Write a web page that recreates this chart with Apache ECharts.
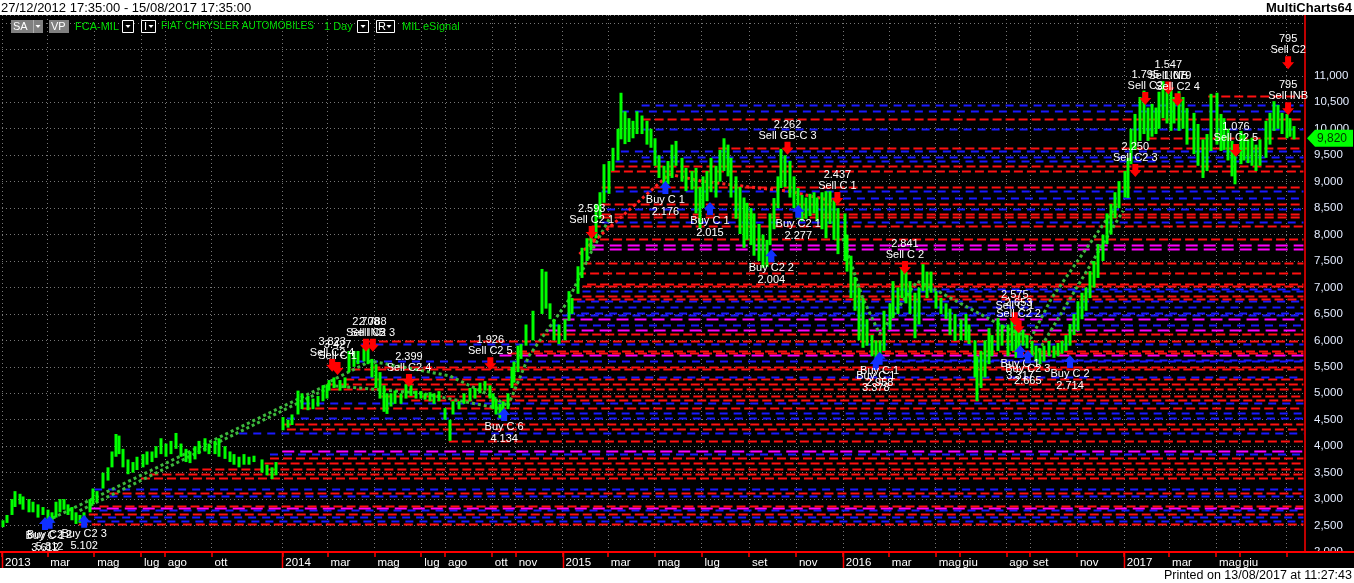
<!DOCTYPE html>
<html><head><meta charset="utf-8">
<script src="https://cdn.jsdelivr.net/npm/echarts@6/dist/echarts.min.js"></script>
<style>html,body{margin:0;padding:0;background:#fff;}#c{width:1354px;height:583px;}</style>
</head><body><div id="c"></div>
<script>
// ---------- axis ticks ----------
const TICK_DATES = ['2013-01-01','2013-03-01','2013-05-01','2013-07-01','2013-08-01','2013-10-01',
  '2014-01-01','2014-03-01','2014-05-01','2014-07-01','2014-08-01','2014-10-01','2014-11-01',
  '2015-01-01','2015-03-01','2015-05-01','2015-07-01','2015-09-01','2015-11-01',
  '2016-01-01','2016-03-01','2016-05-01','2016-06-01','2016-08-01','2016-09-01','2016-11-01',
  '2017-01-01','2017-03-01','2017-05-01','2017-06-01','2017-08-01'];
const TICK_LABELS = ['2013','mar','mag','lug','ago','ott',
  '2014','mar','mag','lug','ago','ott','nov',
  '2015','mar','mag','lug','set','nov',
  '2016','mar','mag','giu','ago','set','nov',
  '2017','mar','mag','giu',''];
const YEAR_TICKS = ['2013-01-01','2014-01-01','2015-01-01','2016-01-01','2017-01-01'];
const X_MIN = '2013-01-01', X_MAX = '2017-08-25';
const Y_MIN = 2000, Y_MAX = 12150, Y_STEP = 500, Y_LABEL_MAX = 11000;

// ---------- price bars: [date, low, high] ----------
const PRICE_BARS = [
['2013-01-02',2470,2600],['2013-01-08',2550,2700],['2013-01-14',2700,3000],['2013-01-18',2850,3150],['2013-01-24',2900,3100],['2013-01-29',2800,3050],
['2013-02-05',2750,3000],['2013-02-10',2750,2950],['2013-02-17',2650,2900],['2013-02-24',2700,2850],
['2013-03-02',2550,2800],['2013-03-07',2550,2750],['2013-03-12',2650,2950],['2013-03-17',2750,3000],['2013-03-23',2800,3000],['2013-03-28',2700,2900],
['2013-04-02',2600,2850],['2013-04-07',2530,2750],['2013-04-12',2550,2700],['2013-04-18',2500,2750],['2013-04-25',2750,3000],['2013-04-30',2900,3200],
['2013-05-05',2950,3150],['2013-05-12',3200,3500],['2013-05-19',3350,3600],['2013-05-24',3600,3900],['2013-05-30',3800,4230],
['2013-06-03',3850,4200],['2013-06-08',3600,3950],['2013-06-14',3470,3750],['2013-06-21',3500,3700],['2013-06-26',3550,3800],
['2013-07-03',3600,3850],['2013-07-09',3650,3900],['2013-07-15',3700,3900],['2013-07-21',3780,4000],['2013-07-27',3850,4150],
['2013-08-02',3800,4050],['2013-08-09',3850,4100],['2013-08-16',3950,4250],['2013-08-22',3800,4050],['2013-08-28',3700,3950],
['2013-09-03',3680,3900],['2013-09-09',3750,4000],['2013-09-15',3850,4100],['2013-09-22',3900,4150],['2013-09-28',3850,4050],
['2013-10-05',3850,4100],['2013-10-11',3800,4150],['2013-10-18',3760,4000],['2013-10-25',3700,3900],['2013-10-30',3650,3850],
['2013-11-06',3600,3800],['2013-11-12',3650,3850],['2013-11-19',3650,3800],['2013-11-25',3700,3820],
['2013-12-05',3500,3750],['2013-12-12',3450,3650],['2013-12-18',3380,3600],['2013-12-24',3450,3700],
['2014-01-02',4300,4550],['2014-01-08',4350,4500],['2014-01-14',4400,4600],['2014-01-21',4600,5050],['2014-01-27',4700,5000],
['2014-02-04',4680,4950],['2014-02-10',4700,4900],['2014-02-17',4750,4950],['2014-02-23',4850,5150],['2014-02-28',4900,5170],
['2014-03-03',5050,5250],['2014-03-10',5100,5300],['2014-03-17',5050,5250],['2014-03-24',5100,5300],['2014-03-29',5400,5800],
['2014-04-04',5500,5800],['2014-04-10',5550,5800],['2014-04-17',5600,5850],['2014-04-23',5550,5860],['2014-04-28',5300,5650],
['2014-05-03',5100,5550],['2014-05-08',4900,5400],['2014-05-13',4650,5150],['2014-05-18',4610,5000],['2014-05-23',4750,5000],['2014-05-28',4800,5050],
['2014-06-05',4800,5000],['2014-06-11',4900,5170],['2014-06-18',4950,5150],['2014-06-24',4900,5050],
['2014-07-01',4900,5040],['2014-07-06',4880,5000],['2014-07-12',4850,5020],['2014-07-18',4800,5000],['2014-07-24',4850,5040],
['2014-08-01',4500,4720],['2014-08-07',4100,4500],['2014-08-12',4600,4850],['2014-08-19',4700,4850],['2014-08-26',4800,5000],
['2014-09-03',4850,5100],['2014-09-09',4900,5100],['2014-09-16',5000,5200],['2014-09-22',5050,5230],['2014-09-28',4900,5150],
['2014-10-03',4700,5000],['2014-10-07',4600,4900],['2014-10-12',4530,4800],['2014-10-16',4550,4850],['2014-10-22',4700,5000],['2014-10-27',5100,5500],['2014-10-30',5200,5600],
['2014-11-04',5400,5900],['2014-11-08',5650,5930],['2014-11-15',5900,6300],['2014-11-23',6000,6560],
['2014-12-05',6500,7350],['2014-12-10',6600,7300],['2014-12-16',6400,6700],['2014-12-21',6000,6400],['2014-12-27',5930,6300],
['2015-01-04',6000,6400],['2015-01-09',6370,6930],['2015-01-14',6500,6800],['2015-01-21',6880,7400],['2015-01-27',7180,7750],
['2015-02-02',7500,7930],['2015-02-07',7700,8120],['2015-02-13',7930,8580],['2015-02-19',8300,8800],['2015-02-24',8600,9330],
['2015-03-03',8770,9390],['2015-03-08',9200,9640],['2015-03-14',9400,10000],['2015-03-18',9800,10680],['2015-03-23',9710,10330],['2015-03-28',9750,10200],
['2015-04-03',9820,10150],['2015-04-08',9900,10330],['2015-04-14',9900,10250],['2015-04-21',9700,10150],['2015-04-26',9640,10000],
['2015-05-02',9300,9820],['2015-05-07',9070,9500],['2015-05-13',8880,9300],['2015-05-18',8950,9390],['2015-05-24',9070,9700],['2015-05-29',9300,9770],
['2015-06-05',9000,9450],['2015-06-11',8820,9260],['2015-06-18',8850,9200],['2015-06-24',8400,9260],['2015-06-29',8120,8900],
['2015-07-03',8500,9100],['2015-07-08',8630,9200],['2015-07-14',8800,9450],['2015-07-20',8700,9300],['2015-07-25',9000,9600],['2015-07-30',9200,9820],
['2015-08-04',9100,9700],['2015-08-09',8700,9450],['2015-08-15',8300,9100],['2015-08-20',8010,8900],['2015-08-25',7750,8700],['2015-08-29',7900,8600],
['2015-09-03',7800,8500],['2015-09-08',7600,8400],['2015-09-14',7500,8200],['2015-09-19',7370,8000],['2015-09-24',7390,7900],['2015-09-28',7800,8400],
['2015-10-03',8100,8690],['2015-10-08',8500,9100],['2015-10-13',8880,9620],['2015-10-18',8900,9500],['2015-10-24',8700,9390],['2015-10-29',8500,9100],
['2015-11-04',8300,8880],['2015-11-09',8250,8750],['2015-11-14',8300,8700],['2015-11-19',8350,8770],['2015-11-24',8400,8800],['2015-11-29',8250,8700],
['2015-12-05',8100,8800],['2015-12-10',7930,8820],['2015-12-16',8200,8820],['2015-12-21',7900,8650],['2015-12-26',7630,8500],
['2016-01-04',7500,8400],['2016-01-06',7300,8000],['2016-01-12',6800,7600],['2016-01-17',6560,7200],['2016-01-22',6000,7000],['2016-01-27',5860,6800],
['2016-02-02',5900,6400],['2016-02-08',5700,6100],['2016-02-13',5670,6000],['2016-02-19',5550,6000],['2016-02-24',5800,6560],
['2016-03-02',6200,6700],['2016-03-07',6420,7120],['2016-03-13',6500,7000],['2016-03-18',6800,7370],['2016-03-23',6700,7300],['2016-03-29',6500,7120],
['2016-04-04',6040,6900],['2016-04-09',6300,7000],['2016-04-14',6930,7440],['2016-04-20',6800,7300],['2016-04-25',6900,7300],
['2016-05-02',6600,6930],['2016-05-08',6500,6800],['2016-05-14',6400,6700],['2016-05-20',6100,6600],['2016-05-26',5990,6500],
['2016-06-03',6000,6400],['2016-06-09',6000,6500],['2016-06-14',5930,6300],['2016-06-21',5300,6000],['2016-06-24',4850,5700],['2016-06-29',5100,5800],
['2016-07-04',5300,6000],['2016-07-09',5550,6230],['2016-07-14',5700,6100],['2016-07-21',5800,6420],['2016-07-26',5900,6300],
['2016-08-03',5700,6300],['2016-08-08',5800,6420],['2016-08-13',5670,6300],['2016-08-18',5800,6310],['2016-08-23',5900,6200],['2016-08-28',5850,6100],
['2016-09-04',5700,5990],['2016-09-09',5600,5900],['2016-09-14',5550,5850],['2016-09-19',5600,5900],['2016-09-25',5700,5990],
['2016-10-02',5670,5900],['2016-10-07',5700,5950],['2016-10-12',5750,5990],['2016-10-18',5800,6100],['2016-10-23',5900,6310],['2016-10-28',6100,6500],
['2016-11-03',6180,6740],['2016-11-08',6400,6900],['2016-11-13',6560,7000],['2016-11-18',6800,7310],['2016-11-23',7000,7500],['2016-11-28',7180,7820],
['2016-12-05',7500,8000],['2016-12-10',7820,8400],['2016-12-15',8000,8580],['2016-12-21',8310,8800],['2016-12-26',8500,9010],
['2017-01-02',8700,9200],['2017-01-06',8690,9450],['2017-01-11',9330,10000],['2017-01-16',9600,10280],['2017-01-22',9770,10600],['2017-01-27',9900,10720],
['2017-02-02',9770,10400],['2017-02-07',9850,10470],['2017-02-12',9900,10400],['2017-02-16',10000,10700],['2017-02-21',10200,10900],['2017-02-26',10100,10700],
['2017-03-03',9960,10770],['2017-03-08',10100,10600],['2017-03-14',9960,10710],['2017-03-19',10000,10600],['2017-03-24',9700,10390],
['2017-04-03',9520,10300],['2017-04-08',9300,10090],['2017-04-14',9070,9800],['2017-04-19',9200,9900],['2017-04-25',9580,10660],
['2017-05-02',9700,10680],['2017-05-07',9580,10280],['2017-05-12',9600,10200],['2017-05-17',9400,10000],['2017-05-22',9100,9770],['2017-05-26',8950,9700],
['2017-06-02',9330,9960],['2017-06-07',9400,9900],['2017-06-12',9350,9800],['2017-06-17',9300,9830],['2017-06-22',9200,9700],['2017-06-27',9300,9800],
['2017-07-05',9450,10150],['2017-07-10',9700,10300],['2017-07-15',9960,10520],['2017-07-21',10000,10450],['2017-07-26',9900,10300],
['2017-08-01',9820,10280],['2017-08-06',9850,10200],['2017-08-11',9800,10050]
];
const LAST_PRICE = 9820;

// ---------- horizontal levels: [startDate, value, kind]  (R red, B blue, M magenta) ----------
const LEVEL_END = '2017-08-23';
const LEVELS = [
['2013-04-11',2530,'R'],['2013-04-17',2590,'B'],['2013-05-01',2660,'B'],['2013-04-24',2720,'R'],['2013-05-08',2790,'B'],
['2013-04-24',2830,'M'],['2013-05-08',2870,'R'],['2013-05-21',3060,'B'],['2013-05-21',3120,'R'],['2013-05-01',3190,'B'],
['2013-07-01',3400,'R'],['2013-07-12',3470,'R'],['2013-09-02',3570,'R'],['2013-12-09',3680,'R'],['2013-12-16',3780,'R'],
['2013-12-16',3850,'B'],['2014-01-01',3910,'M'],['2014-08-06',4100,'R'],['2013-11-06',4250,'B'],['2014-01-07',4320,'R'],
['2014-01-01',4420,'R'],['2014-01-07',4530,'B'],['2014-07-25',4630,'B'],['2014-01-27',4720,'R'],['2014-01-27',4820,'B'],
['2014-06-18',4870,'R'],['2014-05-10',4950,'R'],['2014-03-05',5080,'R'],['2014-02-28',5180,'R'],['2014-03-24',5270,'R'],
['2014-04-01',5310,'B'],['2014-04-01',5460,'R'],['2014-04-27',5500,'R'],['2014-04-07',5610,'B'],['2016-02-18',5630,'B'],
['2014-10-11',5720,'M'],['2014-10-22',5760,'R'],['2014-11-04',5800,'R'],['2014-04-14',5930,'B'],['2014-04-20',5990,'R'],
['2014-12-03',6120,'R'],['2014-12-10',6200,'M'],['2014-12-17',6290,'B'],['2015-01-01',6400,'M'],['2015-01-01',6480,'B'],
['2015-01-07',6520,'B'],['2015-01-14',6630,'B'],['2015-01-20',6740,'B'],['2015-01-14',6780,'R'],['2015-01-27',6840,'R'],
['2015-01-27',6930,'B'],['2016-03-15',6970,'B'],['2015-01-27',7030,'R'],['2015-02-02',7070,'R'],['2015-01-20',7270,'R'],
['2015-01-27',7460,'R'],['2015-02-08',7730,'M'],['2015-02-08',7800,'M'],['2015-02-02',7920,'R'],['2015-02-08',8160,'R'],
['2015-02-21',8240,'B'],['2015-02-21',8330,'R'],['2015-02-21',8390,'R'],['2015-02-28',8480,'B'],['2015-02-21',8580,'R'],
['2015-12-14',8690,'B'],['2015-02-21',8820,'B'],['2015-02-21',8900,'R'],['2015-03-05',9200,'R'],['2015-03-11',9300,'R'],
['2015-03-11',9390,'B'],['2015-04-14',9470,'B'],['2015-03-18',9580,'B'],['2015-07-23',9640,'R'],['2017-02-01',9820,'R'],
['2015-04-14',10000,'B'],['2015-04-14',10180,'R'],['2015-03-18',10330,'B'],['2015-04-14',10440,'B'],['2017-04-21',10620,'R']
];

// ---------- dotted trend lines: [kind, points] ----------
const TRENDS = [
['G', [['2013-03-08',2640],['2014-03-05',5190]]],
['G', [['2013-04-12',2780],['2014-03-05',5120]]],
['G', [['2014-03-05',5230],['2014-04-26',5610],['2014-08-07',5330],['2014-09-30',4950],['2014-10-22',4760]]],
['G', [['2014-03-11',5140],['2014-07-01',5000],['2014-10-16',4700]]],
['G', [['2014-10-22',4760],['2014-11-18',5700],['2015-01-08',6740],['2015-02-08',7690],['2015-03-05',8350]]],
['R', [['2015-01-23',7630],['2015-05-20',9140]]],
['R', [['2015-05-20',9140],['2015-07-01',9010],['2015-09-01',8900],['2015-10-22',8820],['2015-12-21',8630]]],
['G', [['2016-01-01',7930],['2016-01-27',6800],['2016-02-18',6120],['2016-04-07',7120],['2016-05-04',6930],['2016-08-01',6230],['2016-09-02',6040],['2016-09-29',6800],['2016-12-24',8580]]],
['G', [['2016-09-12',5800],['2016-12-31',8450]]]
];

// ---------- trade signals: [date, price, text1, text2, kind] ----------
const SIGNALS = [
['2013-02-26',2550,'Buy C 1','3.612','B'],['2013-03-04',2570,'Buy C2 2','5.812','B'],['2013-04-18',2590,'Buy C2 3','5.102','B'],
['2014-03-07',5520,'3.823','Sell C2 4','S'],['2014-03-14',5460,'3.427','Sell C 1','S'],
['2014-04-20',5900,'2.708','Sell INB','S'],['2014-04-29',5900,'2.788','Sell C2 3','S'],
['2014-06-15',5230,'2.399','Sell C2 4','S'],['2014-09-29',5550,'1.926','Sell C2 5','S'],
['2014-10-17',4610,'Buy C 6','4.134','B'],
['2015-02-08',8030,'2.593','Sell C2 1','S'],
['2015-05-15',8900,'Buy C 1','2.176','B'],['2015-07-12',8500,'Buy C 1','2.015','B'],
['2015-09-30',7610,'Buy C2 2','2.004','B'],['2015-11-04',8450,'Buy C2 1','2.277','B'],
['2015-10-21',9620,'2.262','Sell GB-C 3','S'],['2015-12-25',8670,'2.437','Sell C 1','S'],
['2016-02-13',5570,'Buy C 1','3.378','B'],['2016-02-18',5670,'Buy C 1','2.958','B'],
['2016-03-22',7370,'2.841','Sell C 2','S'],
['2016-08-12',6400,'2.575','Sell C 1','S'],['2016-08-17',6250,'2.653','Sell C2 2','S'],
['2016-08-19',5800,'Buy C 1','3.317','B'],['2016-08-29',5700,'Buy C2 3','2.665','B'],
['2016-10-23',5610,'Buy C 2','2.714','B'],
['2017-01-16',9200,'2.250','Sell C2 3','S'],['2017-01-29',10560,'1.795','Sell C2','S'],
['2017-02-28',10760,'1.547','Sell INB','S'],['2017-03-12',10540,'1.079','Sell C2 4','S'],
['2017-05-27',9580,'1.076','Sell C2 5','S'],
['2017-08-03',10370,'795','Sell INB','S'],['2017-08-03',11240,'795','Sell C2','S']
];

// ---------- helpers ----------
function ts(s){const p=s.split('-').map(Number);return new Date(p[0],p[1]-1,p[2]).getTime();}
const LABEL_MAP = {};
TICK_DATES.forEach((d,i)=>{LABEL_MAP[ts(d)] = TICK_LABELS[i];});
const TICK_TS = TICK_DATES.map(ts);
const LABEL_TS = TICK_DATES.filter((d,i)=>TICK_LABELS[i]!=='').map(ts);
const FONT = 'Liberation Sans, Arial, sans-serif';
const LEVEL_COLOR = {R:'#ff1010', B:'#1a1aff', M:'#ff00ff'};
const LEVEL_DASH = {R:[9,4], B:[8,6], M:[12,6]};
const TREND_COLOR = {G:'#3cb83c', R:'#ff2020'};

const chart = echarts.init(document.getElementById('c'), null, {renderer:'canvas'});

const series = [];
series.push({
  type:'custom', z:2, silent:true,
  data: LEVELS.map(l=>[ts(l[0]), ts(LEVEL_END), l[1]]),
  encode:{x:[0,1], y:2},
  renderItem:(params, api)=>{
    const k = LEVELS[params.dataIndex][2];
    const s = api.coord([api.value(0), api.value(2)]);
    const e = api.coord([api.value(1), api.value(2)]);
    const y = Math.round(s[1]) + 0.5;
    return {type:'line', shape:{x1:s[0], y1:y, x2:e[0], y2:y},
      style:{stroke:LEVEL_COLOR[k], lineWidth:2, lineDash:LEVEL_DASH[k]}};
  }
});
TRENDS.forEach(t=>{
  series.push({type:'line', z:3, silent:true, symbol:'none',
    data: t[1].map(p=>[ts(p[0]), p[1]]),
    lineStyle:{color:TREND_COLOR[t[0]], width:3, type:[3,3]}});
});
series.push({
  type:'custom', z:4, silent:true,
  data: PRICE_BARS.map(b=>[ts(b[0]), b[1], b[2]]),
  encode:{x:0, y:[1,2]},
  renderItem:(params, api)=>{
    const lo = api.coord([api.value(0), api.value(1)]);
    const hi = api.coord([api.value(0), api.value(2)]);
    return {type:'rect', shape:{x:Math.round(lo[0])-1.5, y:hi[1], width:3, height:Math.max(1, lo[1]-hi[1])},
      style:{fill:'#00ff00'}};
  }
});
series.push({
  type:'custom', z:6, silent:true, clip:false,
  data: SIGNALS.map(s=>[ts(s[0]), s[1]]),
  encode:{x:0, y:1},
  renderItem:(params, api)=>{
    const sg = SIGNALS[params.dataIndex];
    const p = api.coord([api.value(0), api.value(1)]);
    const x = p[0], y = p[1];
    const sell = sg[4]==='S';
    const col = sell ? '#ff0000' : '#1030ff';
    const pts = sell
      ? [[x-3,y-7],[x+3,y-7],[x+3,y-1],[x+6,y-1],[x,y+6],[x-6,y-1],[x-3,y-1]]
      : [[x-3,y+7],[x+3,y+7],[x+3,y+1],[x+6,y+1],[x,y-6],[x-6,y+1],[x-3,y+1]];
    const t1y = sell ? y-24 : y+13;
    const t2y = sell ? y-13 : y+25;
    const st = {fill:'#ffffff', font:'11px '+FONT, align:'center', verticalAlign:'middle'};
    return {type:'group', children:[
      {type:'polygon', shape:{points:pts}, style:{fill:col}},
      {type:'text', x:x, y:t1y, style:Object.assign({text:sg[2]}, st)},
      {type:'text', x:x, y:t2y, style:Object.assign({text:sg[3]}, st)}
    ]};
  }
});
series.push({
  type:'custom', z:7, silent:true, clip:false,
  data: YEAR_TICKS.map(d=>[ts(d), Y_MIN]),
  encode:{x:0, y:1},
  renderItem:(params, api)=>{
    const p = api.coord([api.value(0), api.value(1)]);
    const x = Math.round(p[0])+0.5;
    return {type:'line', shape:{x1:x, y1:p[1], x2:x, y2:p[1]+16}, style:{stroke:'#ff0000', lineWidth:1.5}};
  }
});
series.push({
  type:'custom', z:8, silent:true, clip:false,
  data: [[ts(PRICE_BARS[PRICE_BARS.length-1][0]), LAST_PRICE]],
  encode:{x:0, y:1},
  renderItem:(params, api)=>{
    const p = api.coord([api.value(0), api.value(1)]);
    const x0 = params.coordSys.x + params.coordSys.width + 2;
    const y = p[1];
    return {type:'group', children:[
      {type:'polygon', shape:{points:[[x0,y],[x0+8,y-8.5],[x0+46,y-8.5],[x0+46,y+8.5],[x0+8,y+8.5]]}, style:{fill:'#00ff00'}},
      {type:'text', x:x0+10, y:y, style:{text:LAST_PRICE.toLocaleString('en-US'), fill:'#003000', font:'12px '+FONT, verticalAlign:'middle'}}
    ]};
  }
});

const graphics = [
  {type:'rect', z:100, shape:{x:0,y:0,width:1354,height:15}, style:{fill:'#ffffff'}},
  {type:'rect', z:100, shape:{x:0,y:568,width:1354,height:15}, style:{fill:'#ffffff'}},
  {type:'rect', z:100, shape:{x:1306,y:553,width:48,height:15}, style:{fill:'#000000'}},
  {type:'text', z:101, x:1, y:8, style:{text:'27/12/2012 17:35:00 - 15/08/2017 17:35:00', fill:'#000', font:'13px '+FONT, verticalAlign:'middle'}},
  {type:'text', z:101, x:1352, y:8, style:{text:'MultiCharts64', fill:'#000', font:'bold 13px '+FONT, align:'right', verticalAlign:'middle'}},
  {type:'text', z:101, x:1352, y:576, style:{text:'Printed on 13/08/2017 at 11:27:43', fill:'#000', font:'12.5px '+FONT, align:'right', verticalAlign:'middle'}},
  {type:'rect', z:101, shape:{x:11,y:20,width:32,height:13}, style:{fill:'#808080'}},
  {type:'line', z:102, shape:{x1:33.5,y1:20,x2:33.5,y2:33}, style:{stroke:'#b0b0b0', lineWidth:1}},
  {type:'text', z:102, x:13, y:26.5, style:{text:'SA', fill:'#ffffff', font:'11px '+FONT, verticalAlign:'middle'}},
  {type:'polygon', z:102, shape:{points:[[35.5,25],[40.5,25],[38,28]]}, style:{fill:'#ffffff'}},
  {type:'rect', z:101, shape:{x:49,y:20,width:20,height:13}, style:{fill:'#808080'}},
  {type:'text', z:102, x:51, y:26.5, style:{text:'VP', fill:'#ffffff', font:'11px '+FONT, verticalAlign:'middle'}},
  {type:'text', z:102, x:75, y:26.5, style:{text:'FCA-MIL', fill:'#00dd00', font:'11px '+FONT, verticalAlign:'middle'}},
  {type:'rect', z:101, shape:{x:122.5,y:20.5,width:11,height:12}, style:{fill:'#000', stroke:'#ffffff', lineWidth:1}},
  {type:'polygon', z:102, shape:{points:[[125.5,25],[130.5,25],[128,28]]}, style:{fill:'#ffffff'}},
  {type:'rect', z:101, shape:{x:141.5,y:20.5,width:14,height:12}, style:{fill:'#000', stroke:'#ffffff', lineWidth:1}},
  {type:'text', z:102, x:144, y:26.5, style:{text:'I', fill:'#ffffff', font:'11px '+FONT, verticalAlign:'middle'}},
  {type:'polygon', z:102, shape:{points:[[148.5,25],[153.5,25],[151,28]]}, style:{fill:'#ffffff'}},
  {type:'text', z:102, x:161, y:26.5, style:{text:'FIAT CHRYSLER AUTOMOBILES', fill:'#00dd00', font:'10px '+FONT, verticalAlign:'middle'}},
  {type:'text', z:102, x:324, y:26.5, style:{text:'1 Day', fill:'#00dd00', font:'11px '+FONT, verticalAlign:'middle'}},
  {type:'rect', z:101, shape:{x:357.5,y:20.5,width:11,height:12}, style:{fill:'#000', stroke:'#ffffff', lineWidth:1}},
  {type:'polygon', z:102, shape:{points:[[360.5,25],[365.5,25],[363,28]]}, style:{fill:'#ffffff'}},
  {type:'rect', z:101, shape:{x:376.5,y:20.5,width:18,height:12}, style:{fill:'#000', stroke:'#ffffff', lineWidth:1}},
  {type:'text', z:102, x:378, y:26.5, style:{text:'R', fill:'#ffffff', font:'11px '+FONT, verticalAlign:'middle'}},
  {type:'polygon', z:102, shape:{points:[[386.5,25],[391.5,25],[389,28]]}, style:{fill:'#ffffff'}},
  {type:'text', z:102, x:402, y:26.5, style:{text:'MIL', fill:'#00dd00', font:'11px '+FONT, verticalAlign:'middle'}},
  {type:'text', z:102, x:423, y:26.5, style:{text:'eSignal', fill:'#00dd00', font:'11px '+FONT, verticalAlign:'middle'}},
  {type:'line', z:103, shape:{x1:0,y1:552,x2:1354,y2:552}, style:{stroke:'#ff0000', lineWidth:2}}
];

chart.setOption({
  animation:false,
  backgroundColor:'#000000',
  grid:{left:2, right:49, top:15, bottom:31, containLabel:false},
  xAxis:{
    type:'value', min:ts(X_MIN), max:ts(X_MAX),
    axisLine:{show:true, lineStyle:{color:'#ff0000', width:2}},
    axisTick:{show:true, customValues:TICK_TS, length:5, lineStyle:{color:'#ff0000', width:1.5}},
    axisLabel:{show:true, customValues:LABEL_TS, hideOverlap:false, showMinLabel:true, showMaxLabel:true,
      formatter:(v)=>LABEL_MAP[v]!==undefined?LABEL_MAP[v]:'', color:'#ffffff', fontFamily:FONT, fontSize:11.5,
      align:'left', margin:5, padding:[0,0,0,3]},
    splitLine:{show:true, lineStyle:{color:'#777777', width:1, type:[1,3]}}
  },
  yAxis:{
    type:'value', position:'right', min:Y_MIN, max:Y_MAX, interval:Y_STEP,
    axisLine:{show:true, lineStyle:{color:'#ff0000', width:1.5}},
    axisTick:{show:false},
    axisLabel:{formatter:(v)=> v>Y_LABEL_MAX ? '' : v.toLocaleString('en-US'), color:'#e4ecff', fontFamily:FONT, fontSize:11.5, margin:9, align:'left', showMaxLabel:false},
    splitLine:{show:true, lineStyle:{color:'#777777', width:1, type:[1,3]}}
  },
  graphic: graphics,
  series: series
});
</script></body></html>
